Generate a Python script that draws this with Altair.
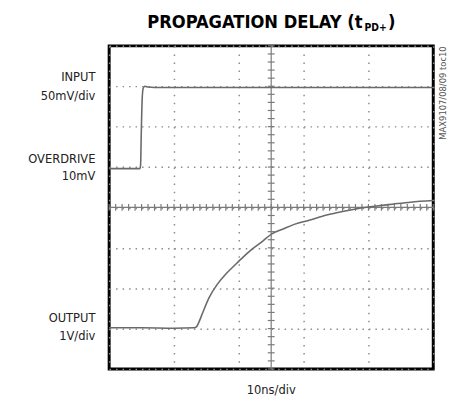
import altair as alt
import pandas as pd

# ---- data (time in ns, amplitude in screen divisions, 0 = centre line) ----
input_ns = [0, 9.5, 9.7, 9.9, 10.2, 10.5, 11.0, 12.0, 14, 30, 50, 70, 100]
input_div = [0.96, 0.96, 1.05, 1.8, 2.7, 2.95, 3.0, 2.98, 2.97, 2.97, 2.97, 2.97, 2.97]

output_ns = [0, 10, 20, 26.2, 27.0, 27.8, 28.8, 30.8, 33.4, 36, 38.9, 41.5, 44, 47,
             50.1, 53.5, 57.1, 62, 67.1, 72, 77.3, 82, 87.4, 93, 100]
output_div = [-2.98, -2.98, -2.99, -2.98, -2.95, -2.82, -2.62, -2.24, -1.90, -1.65,
              -1.42, -1.22, -1.04, -0.86, -0.66, -0.54, -0.42, -0.31, -0.19, -0.10,
              -0.02, 0.03, 0.08, 0.13, 0.17]

x_major = [0, 10, 20, 30, 40, 50, 60, 70, 80, 90, 100]
y_major = [-4, -3, -2, -1, 0, 1, 2, 3, 4]
x_minor = [i * 2 for i in range(51)]
y_minor = [round(-4 + i * 0.2, 1) for i in range(41)]

left_labels = ["INPUT", "50mV/div", "OVERDRIVE", "10mV", "OUTPUT", "1V/div"]
title_main = "PROPAGATION DELAY (t"
title_sub = "PD+"
title_end = ")"
x_label = "10ns/div"
watermark = "MAX9107/08/09 toc10"

W, H = 330, 329
FONT = "Liberation Sans Narrow, DejaVu Sans Condensed, Roboto, sans-serif"
TRACE = "#6a6a6a"
AXC = "#7a7a7a"

xs = alt.Scale(domain=[0, 100], nice=False, zero=False)
ys = alt.Scale(domain=[-4, 4], nice=False, zero=False)

traces = pd.concat([
    pd.DataFrame({"t": input_ns, "v": input_div, "s": "input"}),
    pd.DataFrame({"t": output_ns, "v": output_div, "s": "output"}),
])

grid = alt.Chart(pd.DataFrame({"t": [0, 100], "v": [-4, 4]})).mark_point(opacity=0).encode(
    x=alt.X("t:Q", scale=xs, axis=alt.Axis(values=x_major, grid=True, labels=False, ticks=False,
                                            domain=False, title=None, gridDash=[1.5, 6.72],
                                            gridColor="#8c8c8c", gridWidth=1.5, gridOpacity=1)),
    y=alt.Y("v:Q", scale=ys, axis=alt.Axis(values=y_major, grid=True, labels=False, ticks=False,
                                            domain=False, title=None, gridDash=[1.5, 5.1],
                                            gridColor="#8c8c8c", gridWidth=1.5, gridOpacity=1)),
)

hline = alt.Chart(pd.DataFrame({"v": [0]})).mark_rule(color=AXC, strokeWidth=1.2).encode(
    y=alt.Y("v:Q", scale=ys))
vline = alt.Chart(pd.DataFrame({"t": [50]})).mark_rule(color=AXC, strokeWidth=1.2).encode(
    x=alt.X("t:Q", scale=xs))

hticks = alt.Chart(pd.DataFrame({"t": x_minor, "v": [0] * len(x_minor)})).mark_tick(
    orient="vertical", size=7, thickness=1.2, color=AXC, opacity=1).encode(
    x=alt.X("t:Q", scale=xs), y=alt.Y("v:Q", scale=ys))
vticks = alt.Chart(pd.DataFrame({"t": [50] * len(y_minor), "v": y_minor})).mark_tick(
    orient="horizontal", size=7, thickness=1.2, color=AXC, opacity=1).encode(
    x=alt.X("t:Q", scale=xs), y=alt.Y("v:Q", scale=ys))

lines = alt.Chart(traces).mark_line(color=TRACE, strokeWidth=1.6, interpolate="monotone").encode(
    x=alt.X("t:Q", scale=xs), y=alt.Y("v:Q", scale=ys), detail="s:N", order="t:Q")


def txt(s, x, y, size=13, align="right", weight="normal", color="#222222", baseline="middle", angle=0):
    return alt.Chart(pd.DataFrame({"s": [s]})).mark_text(
        font=FONT, fontSize=size, align=align, fontWeight=weight, color=color,
        baseline=baseline, angle=angle).encode(text="s:N", x=alt.value(x), y=alt.value(y))


label_y = [32, 51, 115, 133, 277, 295]
label_layers = [txt(s, -14, yy) for s, yy in zip(left_labels, label_y)]

title_layers = [
    txt(title_main, 258, -18, size=18.5, align="right", weight="bold", color="#000000", baseline="alphabetic"),
    txt(title_sub, 260, -15, size=10.5, align="left", weight="bold", color="#000000", baseline="alphabetic"),
    txt(title_end, 284, -18, size=18.5, align="left", weight="bold", color="#000000", baseline="alphabetic"),
]

xlab = txt(x_label, 165, 350, size=13, align="center")
wm = txt(watermark, 340, 48, size=9.5, align="center", color="#555555", angle=270)

chart = alt.layer(grid, hline, vline, hticks, vticks, lines, *label_layers, *title_layers, xlab, wm).properties(
    width=W, height=H,
    autosize=alt.AutoSizeParams(type="none"),
    padding={"left": 103, "top": 35, "right": 14, "bottom": 25},
).configure_view(stroke="#000000", strokeWidth=3)

chart.save("out.html", embed_options={"renderer": "svg", "actions": False})
